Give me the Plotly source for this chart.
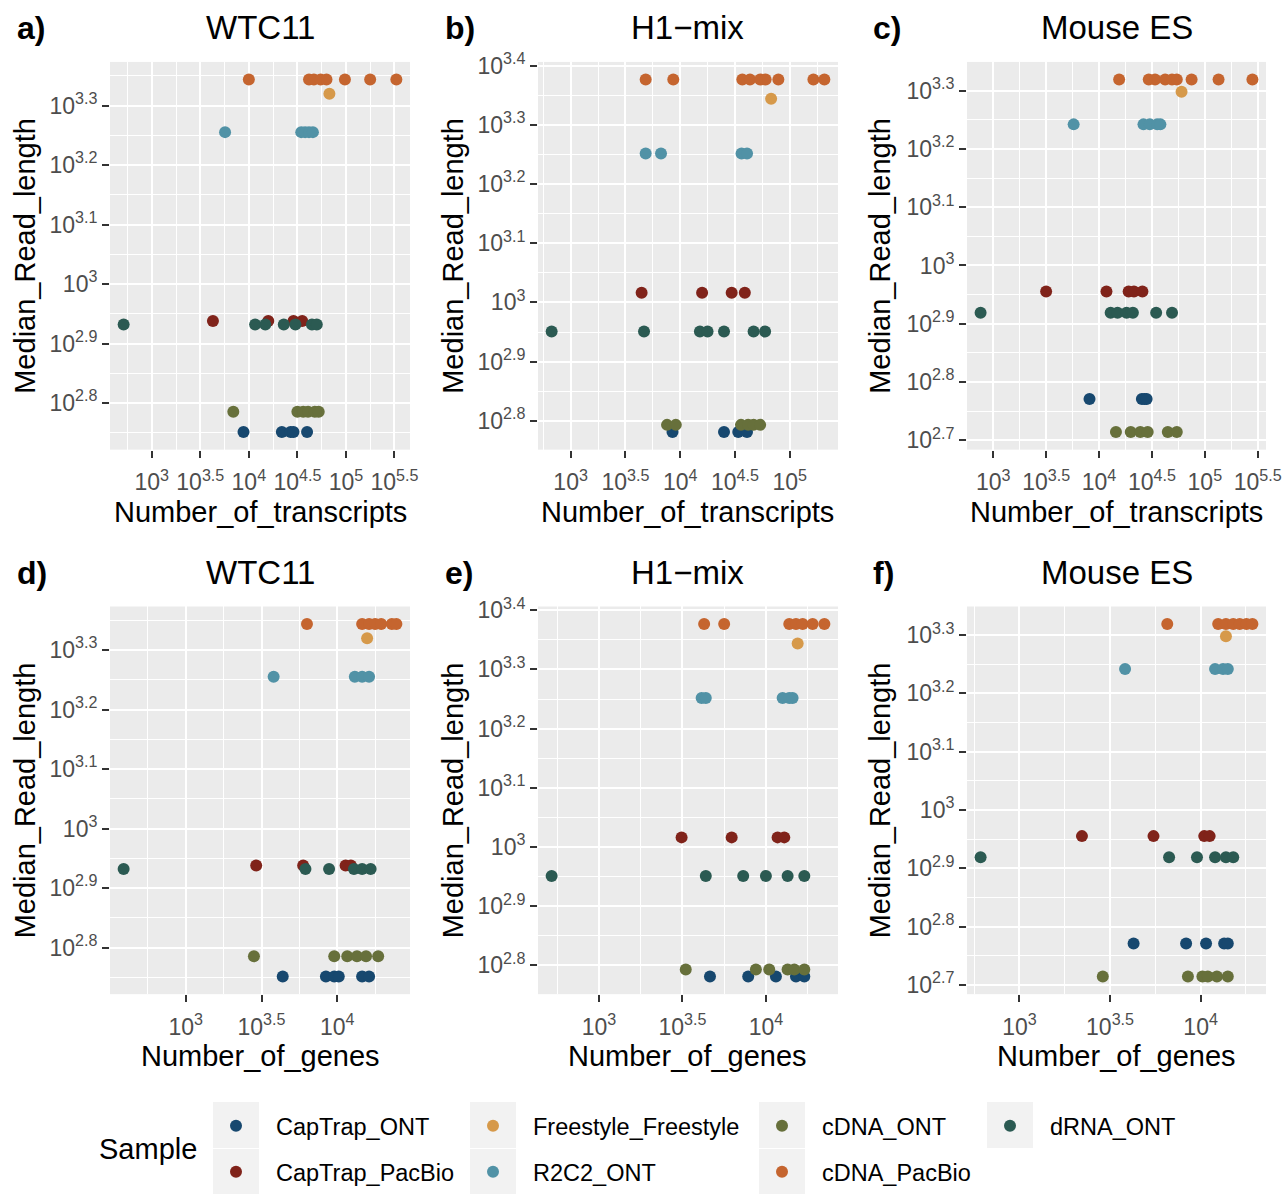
import math
import plotly.graph_objects as go

# ---------------- data ----------------
SAMPLES = ["CapTrap_ONT", "CapTrap_PacBio", "Freestyle_Freestyle", "R2C2_ONT",
           "cDNA_ONT", "cDNA_PacBio", "dRNA_ONT"]
SAMPLE_COLORS = ["#17486F", "#80231A", "#D6994A", "#5192A6",
                 "#67703B", "#C5652F", "#2B5A52"]

# median read length (one value per sample and dataset)
WTC11_read_length = {"CapTrap_ONT": 564, "CapTrap_PacBio": 867, "Freestyle_Freestyle": 2088,
                     "R2C2_ONT": 1800, "cDNA_ONT": 610, "cDNA_PacBio": 2206, "dRNA_ONT": 855}
H1_read_length = {"CapTrap_ONT": 604, "CapTrap_PacBio": 1038, "Freestyle_Freestyle": 2208,
                  "R2C2_ONT": 1785, "cDNA_ONT": 621, "cDNA_PacBio": 2380, "dRNA_ONT": 893}
Mouse_read_length = {"CapTrap_ONT": 590, "CapTrap_PacBio": 902, "Freestyle_Freestyle": 1987,
                     "R2C2_ONT": 1746, "cDNA_ONT": 518, "cDNA_PacBio": 2084, "dRNA_ONT": 830}

# number of transcripts (one value per tool)
WTC11_transcripts = {
    "CapTrap_ONT": [8810, 21880, 26920, 28840, 39810],
    "CapTrap_PacBio": [4266, 15850, 28840, 35480],
    "Freestyle_Freestyle": [67610],
    "R2C2_ONT": [5690, 34670, 38020, 41690, 45710],
    "cDNA_ONT": [6918, 31620, 36310, 40740, 47860, 52480],
    "cDNA_PacBio": [10000, 41690, 46770, 54950, 63100, 97720, 177800, 331100],
    "dRNA_ONT": [513, 11610, 14790, 22910, 30200, 44670, 50120],
}
H1_transcripts = {
    "CapTrap_ONT": [8511, 25120, 33880, 40740],
    "CapTrap_PacBio": [4446, 15850, 29510, 38900],
    "Freestyle_Freestyle": [67610],
    "R2C2_ONT": [4842, 6683, 36310, 40740],
    "cDNA_ONT": [7586, 9120, 35890, 41690, 46770, 53700],
    "cDNA_PacBio": [4842, 8650, 36900, 43350, 53700, 60260, 78700, 164400, 207000],
    "dRNA_ONT": [671, 4677, 15140, 17780, 25120, 46770, 59570],
}
Mouse_transcripts = {
    "CapTrap_ONT": [8128, 25410, 26920, 28180],
    "CapTrap_PacBio": [3162, 11750, 19050, 21380, 25700],
    "Freestyle_Freestyle": [60260],
    "R2C2_ONT": [5754, 26300, 30200, 35480, 38020],
    "cDNA_ONT": [14450, 19950, 24550, 28840, 44670, 54330],
    "cDNA_PacBio": [15490, 29510, 33880, 42170, 48980, 54330, 74990, 134900, 281800],
    "dRNA_ONT": [759, 12880, 14960, 18200, 20890, 34670, 48980],
}

# number of genes (one value per tool)
WTC11_genes = {
    "CapTrap_ONT": [4365, 8414, 9550, 10230, 14590, 16220],
    "CapTrap_PacBio": [2917, 5957, 11350, 12300],
    "Freestyle_Freestyle": [15740],
    "R2C2_ONT": [3802, 13060, 14590, 16220],
    "cDNA_ONT": [2818, 9550, 11640, 13490, 15490, 18620],
    "cDNA_PacBio": [6310, 14590, 16220, 17780, 19500, 22910, 24550],
    "dRNA_ONT": [389, 6166, 8831, 12880, 14590, 16600],
}
H1_genes = {
    "CapTrap_ONT": [4624, 7834, 11480, 15140, 16980],
    "CapTrap_PacBio": [3126, 6237, 11750, 12880],
    "Freestyle_Freestyle": [15490],
    "R2C2_ONT": [4121, 4365, 12590, 13800, 14450],
    "cDNA_ONT": [3311, 8710, 10470, 13490, 14790, 16980],
    "cDNA_PacBio": [4266, 5623, 13800, 15140, 16600, 19050, 22390],
    "dRNA_ONT": [521, 4365, 7311, 10000, 13490, 16980],
}
Mouse_genes = {
    "CapTrap_ONT": [4266, 8318, 10720, 13490, 14130],
    "CapTrap_PacBio": [2213, 5495, 10470, 11220],
    "Freestyle_Freestyle": [13800],
    "R2C2_ONT": [3828, 12020, 13300, 14130],
    "cDNA_ONT": [2884, 8511, 10230, 10960, 12300, 14130],
    "cDNA_PacBio": [6546, 12500, 13800, 15140, 16440, 17910, 19320],
    "dRNA_ONT": [610, 6699, 9550, 12020, 13800, 15140],
}

PANEL_TAGS = ["a)", "b)", "c)", "d)", "e)", "f)"]
PANEL_TITLES = ["WTC11", "H1\u2212mix", "Mouse ES", "WTC11", "H1\u2212mix", "Mouse ES"]
X_TITLES = ["Number_of_transcripts"] * 3 + ["Number_of_genes"] * 3
Y_TITLE = "Median_Read_length"
LEGEND_TITLE = "Sample"

X_TICK_EXPONENTS = [3, 3.5, 4, 4.5, 5, 5.5]
Y_TICK_EXPONENTS = [2.7, 2.8, 2.9, 3.0, 3.1, 3.2, 3.3, 3.4]

# ---------------- layout geometry (pixels) ----------------
W, H = 1284, 1194
FONT = "Liberation Sans, Arial, Helvetica, sans-serif"

COL_X = [(110, 410), (538, 838), (967, 1266)]
ROW_Y = [(62, 450), (607, 995)]
TAG_X = [15, 443, 871]
YTITLE_X = [25, 453, 880]
TITLE_Y = [28, 573]
XTITLE_Y = [512, 1057]

panel_counts = [WTC11_transcripts, H1_transcripts, Mouse_transcripts,
                WTC11_genes, H1_genes, Mouse_genes]
panel_lengths = [WTC11_read_length, H1_read_length, Mouse_read_length,
                 WTC11_read_length, H1_read_length, Mouse_read_length]


def fx(px):
    return px / W


def fy(py):
    return 1 - py / H


def sup(e):
    return "10<sup>%s</sup>" % (("%g" % e))


fig = go.Figure()
annotations = []
layout = dict(
    width=W, height=H,
    margin=dict(l=0, r=0, t=0, b=0, pad=0),
    paper_bgcolor="white",
    plot_bgcolor="#EBEBEB",
    font=dict(family=FONT, color="black"),
    template="none",
)

for i in range(6):
    r, c = divmod(i, 3)
    counts = panel_counts[i]
    lengths = panel_lengths[i]
    ax = "" if i == 0 else str(i + 1)

    for k, s in enumerate(SAMPLES):
        xs = counts[s]
        fig.add_trace(go.Scatter(
            x=xs, y=[lengths[s]] * len(xs), mode="markers", name=s,
            marker=dict(color=SAMPLE_COLORS[k], size=12, line=dict(width=0)),
            xaxis="x" + ax, yaxis="y" + ax,
            showlegend=(i == 0),
            legend="legend" if k == 0 else "legend%d" % (k + 1),
        ))

    # ggplot-style 5% expansion on log scale
    lx = [math.log10(v) for s in SAMPLES for v in counts[s]]
    ly = [math.log10(lengths[s]) for s in SAMPLES]
    x0, x1 = min(lx), max(lx)
    y0, y1 = min(ly), max(ly)
    xr = [x0 - 0.05 * (x1 - x0), x1 + 0.05 * (x1 - x0)]
    yr = [y0 - 0.05 * (y1 - y0), y1 + 0.05 * (y1 - y0)]

    xt = [e for e in X_TICK_EXPONENTS if xr[0] <= e <= xr[1]]
    xm = [e + 0.25 for e in [2.5] + X_TICK_EXPONENTS if xr[0] <= e + 0.25 <= xr[1]]
    yt = [e for e in Y_TICK_EXPONENTS if yr[0] <= e <= yr[1]]
    ym = [round(e + 0.05, 2) for e in [2.6] + Y_TICK_EXPONENTS if yr[0] <= e + 0.05 <= yr[1]]

    common = dict(
        type="log", showline=False, zeroline=False, automargin=False,
        showgrid=True, gridcolor="white", gridwidth=2.2,
        ticks="outside", ticklen=7, tickwidth=2, tickcolor="#333333",
        tickfont=dict(family=FONT, size=23, color="#4D4D4D"),
        tickmode="array",
    )
    layout["xaxis" + ax] = dict(
        common, domain=[fx(COL_X[c][0]), fx(COL_X[c][1])], range=xr,
        anchor="y" + ax, ticklabelstandoff=5,
        tickvals=[10 ** e for e in xt], ticktext=[sup(e) for e in xt],
        minor=dict(tickvals=[10 ** e for e in xm], showgrid=True,
                   gridcolor="white", gridwidth=1.1, ticks=""),
    )
    layout["yaxis" + ax] = dict(
        common, domain=[fy(ROW_Y[r][1]), fy(ROW_Y[r][0])], range=yr,
        anchor="x" + ax,
        tickvals=[10 ** e for e in yt], ticktext=[sup(e) for e in yt],
        minor=dict(tickvals=[10 ** e for e in ym], showgrid=True,
                   gridcolor="white", gridwidth=1.1, ticks=""),
    )

    cx = (COL_X[c][0] + COL_X[c][1]) / 2
    cy = (ROW_Y[r][0] + ROW_Y[r][1]) / 2
    annotations += [
        dict(text=PANEL_TITLES[i], x=fx(cx), y=fy(TITLE_Y[r]), xref="paper", yref="paper",
             xanchor="center", yanchor="middle", showarrow=False,
             font=dict(family=FONT, size=33, color="black")),
        dict(text="<b>%s</b>" % PANEL_TAGS[i], x=fx(TAG_X[c]), y=fy(TITLE_Y[r]),
             xref="paper", yref="paper", xanchor="left", yanchor="middle", showarrow=False,
             font=dict(family=FONT, size=32, color="black")),
        dict(text=X_TITLES[i], x=fx(cx), y=fy(XTITLE_Y[r]), xref="paper", yref="paper",
             xanchor="center", yanchor="middle", showarrow=False,
             font=dict(family=FONT, size=29, color="black")),
        dict(text=Y_TITLE, x=fx(YTITLE_X[c]), y=fy(cy), xref="paper", yref="paper",
             xanchor="center", yanchor="middle", showarrow=False, textangle=-90,
             font=dict(family=FONT, size=29, color="black")),
    ]

# ---------------- legend (ggplot-like, 4 columns x 2 rows) ----------------
LEG_TEXT_X = [276, 533, 822, 1050]
LEG_ROW_Y = [1126, 1173]
LEG_POS = [(0, 0), (0, 1), (1, 0), (1, 1), (2, 0), (2, 1), (3, 0)]
shapes = []
for k, s in enumerate(SAMPLES):
    col, row = LEG_POS[k]
    name = "legend" if k == 0 else "legend%d" % (k + 1)
    layout[name] = dict(
        x=fx(LEG_TEXT_X[col] - 80), y=fy(LEG_ROW_Y[row]),
        xanchor="left", yanchor="middle",
        bgcolor="rgba(0,0,0,0)", borderwidth=0, itemwidth=70,
        font=dict(family=FONT, size=23.5, color="black"),
    )
    kx0 = LEG_TEXT_X[col] - 63
    ky0 = LEG_ROW_Y[row] - 23
    shapes.append(dict(type="rect", xref="paper", yref="paper",
                       x0=fx(kx0), x1=fx(kx0 + 46), y0=fy(ky0 + 46), y1=fy(ky0),
                       fillcolor="#F2F2F2", line=dict(width=0), layer="below"))

annotations.append(dict(text=LEGEND_TITLE, x=fx(148), y=fy(1150), xref="paper", yref="paper",
                        xanchor="center", yanchor="middle", showarrow=False,
                        font=dict(family=FONT, size=29, color="black")))

layout["annotations"] = annotations
layout["shapes"] = shapes
fig.update_layout(**layout)

fig.write_html("out.html", config={"displayModeBar": False},
               post_script="document.body.style.margin='0';")
